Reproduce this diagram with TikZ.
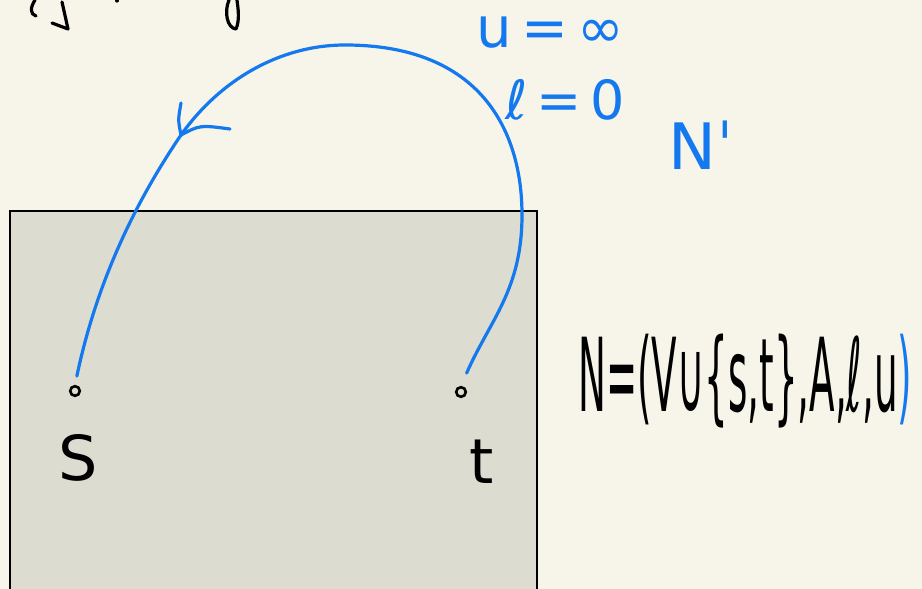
\documentclass[tikz,border=0pt]{standalone}
\usepackage{fontspec}
\setmainfont{DejaVu Sans}
\usepackage{xcolor}
\usetikzlibrary{positioning}
\definecolor{paper}{HTML}{F7F5EA}
\definecolor{boxgray}{HTML}{DCDCD1}
\definecolor{ink}{HTML}{1479EE}

\begin{document}
\begin{tikzpicture}[
  x=1pt, y=-1pt,
  pen/.style={line width=3.2pt, line cap=round, line join=round},
  blue pen/.style={pen, draw=ink},
  vtx/.style={circle, draw, line width=2.6pt, inner sep=3.4pt},
  hand/.style={inner sep=0pt, font=\fontsize{#1}{#1}\selectfont},
  hand/.default=44
]
  \path[use as bounding box, fill=paper] (0,0) rectangle (922,589);
  \clip (0,0) rectangle (922,589);
  % cut-off writing at the top
  \draw[pen] (35,0) .. controls (30,8) and (30,14) .. (36,16);
  \draw[pen] (52,23) -- (68,29) -- (62,2);
  \draw[pen] (117,0) -- (117,1);
  \draw[pen] (229,0) .. controls (224,12) and (227,28) .. (236,29) .. controls (240,20) and (238,8) .. (237,0);
  % the box
  \draw[line width=2.2pt, fill=boxgray] (10,211) rectangle (537,600);
  % source and sink
  \node[vtx] (s) at (75,391) {};
  \node[vtx] (t) at (461,392) {};
  \node[hand=62] (slab) at (78,458) {S};
  \node[hand=62] (tlab) at (482,462) {t};
  % new arc t -> s
  \draw[blue pen, shorten <=14pt, shorten >=9pt]
    (t.north) .. controls (490,320) and (522,290) .. (522,215)
    .. controls (522,130) and (480,45) .. (345,45)
    .. controls (280,45) and (220,80) .. (181,135) coordinate (tip)
    .. controls (130,210) and (95,290) .. (s.north);
  \draw[blue pen] (tip) .. controls (178,120) .. (181,103);
  \draw[blue pen] (tip) .. controls (200,125) .. (230,129);
  % labels of the arc
  \node[hand=56, text=ink, anchor=west] (ulab) at (476,32) {u\,=\,∞};
  \node[hand=54, text=ink, anchor=west] (llab) at (505,100) {ℓ\,=\,0};
  \node[hand=64, text=ink, anchor=south west] (nlab) at (668,170) {Nˈ};
  % the network
  \node[hand=102, anchor=west] (net) at (578,381)
    {\resizebox{334pt}{\height}{N=(V∪\{s,t\},A,ℓ,u\textcolor{ink}{)}}};
\end{tikzpicture}
\end{document}
